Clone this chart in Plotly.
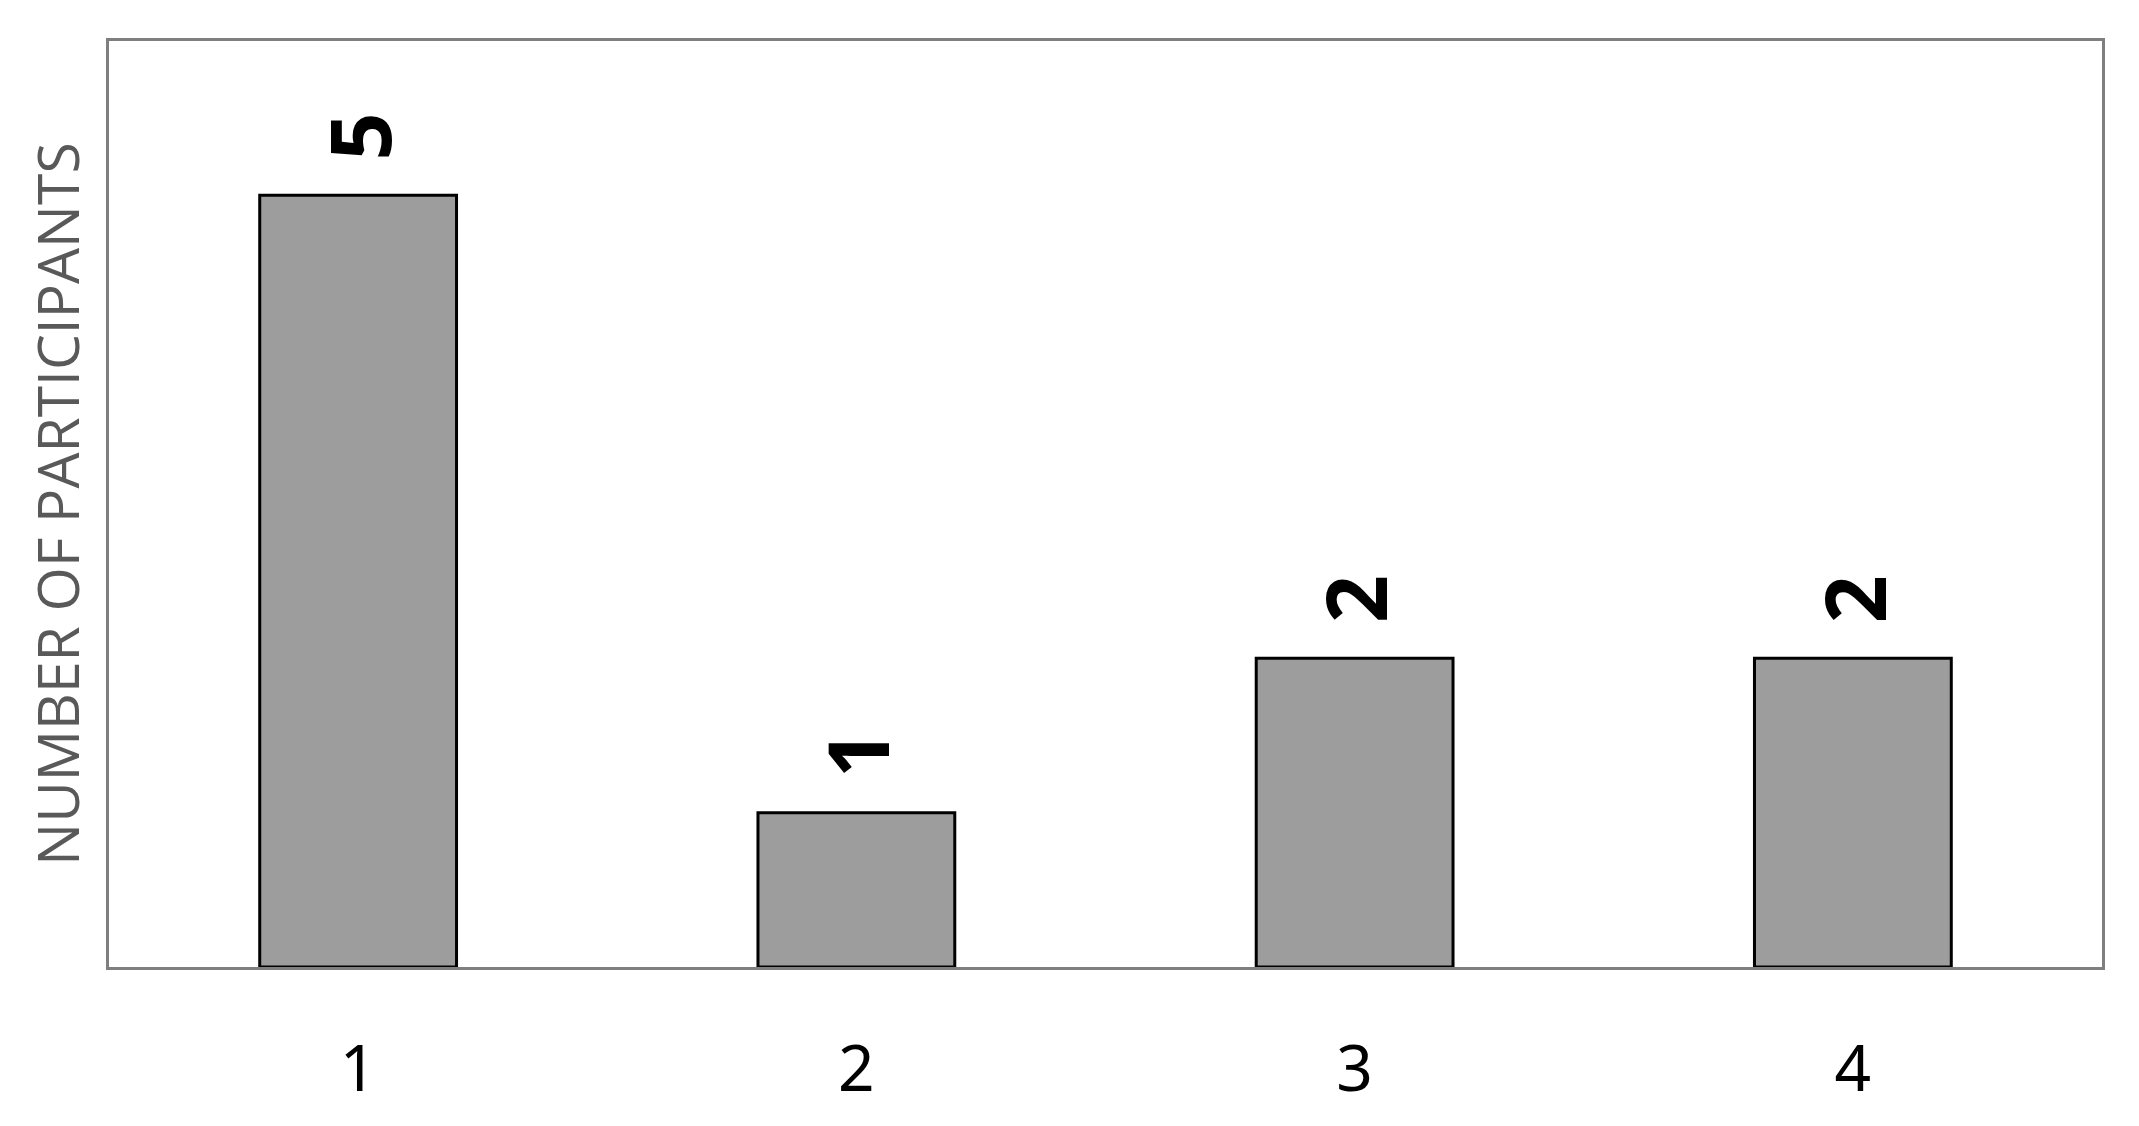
import plotly.graph_objects as go

categories = [1, 2, 3, 4]
participants = [5, 1, 2, 2]
cat_labels = [str(c) for c in categories]
value_labels = [str(v) for v in participants]

fig = go.Figure(go.Bar(
    x=categories, y=participants, width=0.395,
    marker=dict(color='#9d9d9d', line=dict(color='black', width=3)),
    hoverinfo='x+y',
))

# rotated value labels above each bar
for c, v, lab in zip(categories, participants, value_labels):
    fig.add_annotation(x=c, y=v, text=lab, showarrow=False, textangle=-90,
                       xanchor='center', yanchor='bottom', yshift=33,
                       font=dict(family='Liberation Sans Narrow, Noto Sans', size=84,
                                 color='black', weight='bold'))

# page body has a small margin, so the margins are shifted to compensate
fig.update_layout(
    width=2139, height=1126,
    margin=dict(l=101, r=45, t=33, b=167),
    plot_bgcolor='white', paper_bgcolor='white',
    showlegend=False,
)
fig.update_xaxes(range=[0.5, 4.5], tickvals=categories, ticktext=cat_labels,
                 showline=True, mirror=True, linecolor='#7f7f7f', linewidth=2.5,
                 showgrid=False, zeroline=False, ticks='', ticklabelstandoff=44,
                 tickfont=dict(family='Liberation Sans Narrow, Noto Sans', size=64, color='black'))
fig.update_yaxes(range=[0, 6], showticklabels=False, ticks='',
                 showline=True, mirror=True, linecolor='#7f7f7f', linewidth=2.5,
                 showgrid=False, zeroline=False,
                 title=dict(text='NUMBER OF PARTICIPANTS', standoff=9,
                            font=dict(family='Open Sans', size=57, color='#595959')))

fig.write_html("out.html")
